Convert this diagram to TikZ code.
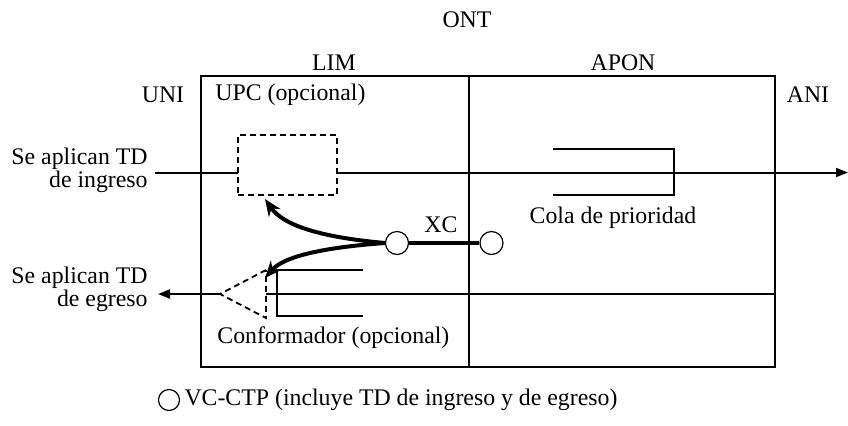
\documentclass[tikz,border=0pt]{standalone}
\usepackage{fontspec}
\setmainfont{Liberation Serif}
\usetikzlibrary{arrows.meta, positioning}

\begin{document}
\begin{tikzpicture}[x=0.5pt, y=-0.5pt,
    every node/.style={font=\fontsize{11.9}{11.5}\selectfont, inner sep=0pt},
    flow/.style={line width=1pt, -{Triangle[length=6pt, width=4.5pt]}},
    frame/.style={line width=0.9pt},
    queue/.style={line width=0.7pt},
    vc/.style={circle, draw, line width=0.6pt, fill=white, minimum size=11.5pt},
    opt/.style={draw, line width=0.9pt, dash pattern=on 3pt off 2pt},
    xcarrow/.style={line width=2pt, -{Stealth[length=8.5pt, width=7pt]}}]
    \useasboundingbox (0,0) rectangle (848,425);
    \draw[frame] (201,76) rectangle (775,367);
    \draw[frame] (469,76) -- (469,367);
    \coordinate (inA) at (155,172.5);
    \coordinate (inB) at (848,172.5);
    \coordinate (egA) at (775,294);
    \coordinate (egB) at (158,294);
    \draw[flow] (inA) -- (inB);
    \draw[flow] (egA) -- (egB);
    \node[opt, fill=white, minimum width=49.5pt, minimum height=30pt] (upc) at (287.5,165) {};
    \draw[queue] (553,149) -| (674,195) -- (553,195);
    \draw[opt, fill=white] (266,270) -- (220,294) -- (266,318) -- cycle;
    \draw[queue] (363,270) -| (277,316) -- (363,316);
    \node[vc] (vc1) at (397,243) {};
    \node[vc] (vc2) at (491.5,243) {};
    \draw[line width=2.4pt] (vc1) -- (vc2);
    \coordinate (upcIn) at (265,199);
    \coordinate (shpIn) at (265,278);
    \draw[xcarrow] (vc1.west) .. controls (330,238) and (285,228) .. (upcIn);
    \draw[xcarrow] (vc1.west) .. controls (330,247) and (285,255) .. (shpIn);
    \node (ont) at (467,20) {ONT};
    \node (lim) at (334,63) {LIM};
    \node (apon) at (623,63) {APON};
    \node (uni) at (163,95) {UNI};
    \node[anchor=west] (upcL) at (215,95) {UPC (opcional)};
    \node (ani) at (808,95) {ANI};
    \node[align=right, anchor=east] (ingL) at (148,170) {Se aplican TD\\de ingreso};
    \node[align=right, anchor=east] (egrL) at (148,289) {Se aplican TD\\de egreso};
    \node (xcL) at (441,225) {XC};
    \node (colaL) at (613,218) {Cola de prioridad};
    \node[anchor=west] (confL) at (217,338) {Conformador (opcional)};
    \node[vc, minimum size=10.5pt] (leg) at (169,400) {};
    \node[right=2pt of leg] (legL) {VC-CTP (incluye TD de ingreso y de egreso)};
\end{tikzpicture}
\end{document}
